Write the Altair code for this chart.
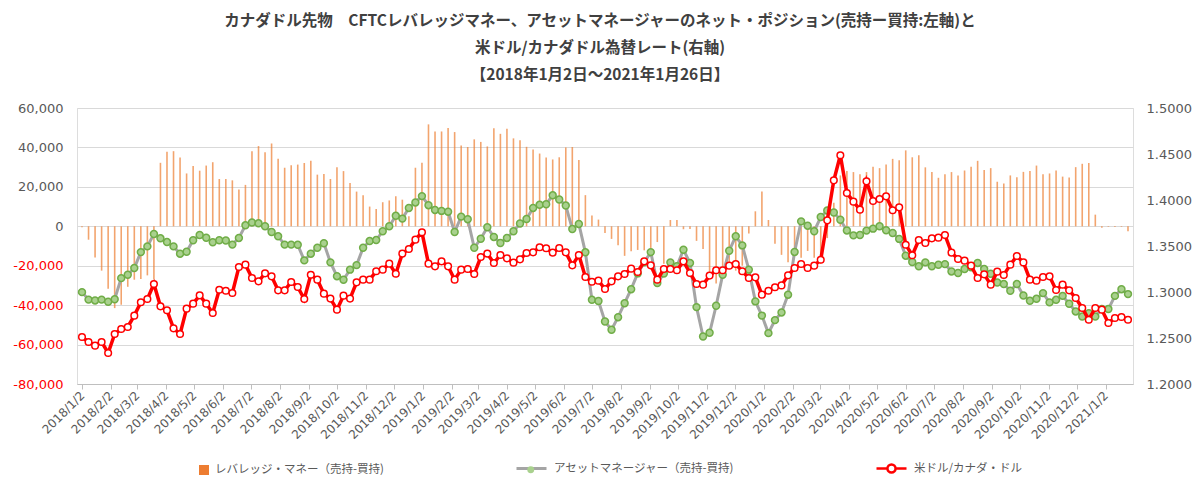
import altair as alt
import pandas as pd

LEV_NAME = "レバレッジ・マネー（売持-買持)"
AM_NAME = "アセットマネージャー（売持-買持)"
FX_NAME = "米ドル/カナダ・ドル"
TITLE = [
    "カナダドル先物　CFTCレバレッジマネー、アセットマネージャーのネット・ポジション(売持ー買持:左軸)と",
    "米ドル/カナダドル為替レート(右軸)",
    "【2018年1月2日～2021年1月26日】",
]

# weekly (Tuesday) observations 2018/1/2 .. 2021/1/26
dates = pd.date_range("2018-01-02", "2021-01-26", freq="7D").strftime("%Y-%m-%d").tolist()

# Leveraged money net position (short - long), contracts
lev = [
    -500, -6800, -15800, -22500, -31700, -41500, -39800, -30700, -27100, -26800,
    -24900, -27000, 32200, 37800, 38100, 34900, 26800, 30600, 28200, 30800,
    32500, 24000, 24000, 23300, 18600, 21000, 38100, 40700, 37500, 42000,
    34200, 29700, 31000, 31300, 32100, 33200, 26200, 26500, 24000, 30000,
    28000, 21900, 17600, 15800, 10000, 8800, 12200, 13100, 15200, 13500,
    5100, 29700, 32200, 51700, 48100, 48100, 49800, 47800, 41000, 40200,
    44100, 42800, 40500, 49700, 46900, 49500, 44600, 43700, 40300, 38900,
    36900, 34900, 33900, 35000, 40000, 40200, 33600, 15800, 5500, 3400,
    -3400, -6400, -9600, -15000, -12700, -12000, -12200, -11000, -8000, -19000,
    3200, 3200, -1500, -1400, -7400, -11500, -23500, -29000, -24000, -21000,
    -22500, -20000, -3700, 7600, 17700, 3200, -8800, -14500, -18300, -12500,
    -16000, -12500, -16000, -19000, -6000, 12000, 25800, 28000, 27500, 26400,
    27500, 30200, 29500, 31400, 34200, 33500, 38500, 35000, 36000, 29900,
    27500, 24600, 26400, 27500, 25700, 28300, 30200, 33200, 28500, 29500,
    22600, 21700, 25800, 24900, 27600, 28000, 30800, 26400, 26800, 28300,
    25200, 24700, 30000, 31700, 32100, 5900, -800, -300, -300, -300, -2500,
]

# Asset manager net position (short - long), contracts
asset = [
    -33400, -37200, -37600, -37200, -38300, -37000, -26300, -24600, -21200, -13100,
    -10200, -3900, -6100, -8000, -10200, -13900, -12900, -7100, -4400, -5800,
    -8100, -7100, -7200, -9300, -5900, 500, 1900, 1500, 0, -2900,
    -5100, -9300, -9300, -9400, -17300, -13900, -10900, -8600, -18300, -25300,
    -27100, -22000, -19700, -10900, -7500, -7000, -2500, 0, 5300, 3900,
    9300, 12100, 15300, 10700, 8300, 7800, 7400, -2900, 4900, 3600,
    -10900, -6300, -500, -5400, -8500, -5900, -2500, 1400, 3700, 9300,
    10900, 11200, 15700, 13600, 10500, -1400, 1200, -13200, -37300, -37900,
    -48300, -52500, -46100, -39000, -31900, -23900, -18300, -13100, -28800, -24000,
    -18300, -20200, -11900, -18600, -41000, -55900, -54000, -40300, -24600, -12400,
    -5100, -9700, -22000, -38100, -45300, -54200, -47600, -43700, -34700, -13000,
    2500, 300, -2500, 4700, 8000, 7000, 3300, -2100, -4600, -4400,
    -2200, -1200, 0, -2000, -3400, -6400, -14900, -18100, -20300, -18300,
    -20300, -19500, -19200, -22900, -23700, -21700, -20800, -18600, -21700, -24100,
    -28500, -29300, -32700, -29300, -35100, -37800, -36800, -33900, -38600, -37300,
    -35300, -39300, -43200, -45800, -44100, -45800, -42000, -42000, -35300, -31900, -34400,
]

# USD/CAD exchange rate
usdcad = [
    1.2511, 1.2457, 1.2417, 1.2457, 1.2337, 1.2543, 1.2598, 1.2620, 1.2743, 1.2888,
    1.2924, 1.3087, 1.2844, 1.2801, 1.2605, 1.2543, 1.2819, 1.2873, 1.2964, 1.2873,
    1.2772, 1.3025, 1.3014, 1.2989, 1.3272, 1.3297, 1.3152, 1.3116, 1.3203, 1.3170,
    1.3018, 1.3018, 1.3109, 1.3054, 1.2924, 1.3188, 1.3134, 1.2982, 1.2928, 1.2808,
    1.2960, 1.2928, 1.3105, 1.3134, 1.3134, 1.3225, 1.3243, 1.3308, 1.3199, 1.3417,
    1.3467, 1.3569, 1.3649, 1.3308, 1.3279, 1.3333, 1.3279, 1.3134, 1.3243, 1.3250,
    1.3196, 1.3380, 1.3417, 1.3315, 1.3402, 1.3366, 1.3319, 1.3355, 1.3424, 1.3431,
    1.3486, 1.3475, 1.3428, 1.3478, 1.3431, 1.3290, 1.3402, 1.3163, 1.3112, 1.3123,
    1.3033, 1.3116, 1.3170, 1.3196, 1.3254, 1.3217, 1.3333, 1.3290, 1.3134, 1.3250,
    1.3250, 1.3236, 1.3333, 1.3207, 1.3087, 1.3080, 1.3178, 1.3236, 1.3236, 1.3286,
    1.3304, 1.3225, 1.3152, 1.3159, 1.2971, 1.3014, 1.3051, 1.3072, 1.3181, 1.3261,
    1.3304, 1.3261, 1.3286, 1.3351, 1.3779, 1.4214, 1.4486, 1.4076, 1.3982, 1.3895,
    1.4203, 1.3989, 1.4011, 1.4040, 1.3888, 1.3920, 1.3514, 1.3399, 1.3565, 1.3533,
    1.3583, 1.3591, 1.3620, 1.3428, 1.3359, 1.3341, 1.3286, 1.3152, 1.3192, 1.3080,
    1.3221, 1.3185, 1.3297, 1.3391, 1.3322, 1.3134, 1.3123, 1.3163, 1.3170, 1.3022,
    1.3080, 1.3018, 1.2935, 1.2826, 1.2699, 1.2826, 1.2808, 1.2663, 1.2717, 1.2728, 1.2699,
]

left_ticks = [-80000, -60000, -40000, -20000, 0, 20000, 40000, 60000]
right_ticks = [1.20, 1.25, 1.30, 1.35, 1.40, 1.45, 1.50]
month_ticks = [(y, m) for y in (2018, 2019, 2020) for m in range(1, 13)] + [(2021, 1)]

# the green-marker legend is drawn on top of the grey line legend; its (hidden) label
# gets a trailing space so that Vega-Lite does not merge it with the line legend
AM_PT = AM_NAME + " "

df = pd.DataFrame({"date": dates, "lev": lev, "asset": asset, "fx": usdcad})
df["s_lev"] = LEV_NAME
df["s_am_line"] = AM_NAME
df["s_am_pt"] = AM_PT
df["s_fx"] = FX_NAME

JP = "Noto Sans CJK JP"
LAB = "DejaVu Sans"
GRAY_TXT = "#595959"

# legend symbol: short line with a hollow circle in the middle
LINE_CIRCLE = "M-1,0L-0.27,0M0.27,0L1,0M-0.27,0A0.27,0.27,0,1,1,0.27,0A0.27,0.27,0,1,1,-0.27,0Z"

x = alt.X(
    "date:T",
    title=None,
    scale=alt.Scale(
        type="utc",
        nice=False,
        domain=[alt.DateTime(year=2018, month=1, date=2, utc=True),
                alt.DateTime(year=2021, month=1, date=26, utc=True)],
    ),
    axis=alt.Axis(
        values=[alt.DateTime(year=y, month=m, date=2, utc=True) for y, m in month_ticks],
        labelExpr="utcFormat(datum.value, '%Y/%-m/%-d')",
        labelAngle=-45, labelAlign="right", labelBaseline="middle",
        labelFont=LAB, labelFontSize=12, labelColor=GRAY_TXT, labelPadding=4,
        labelOverlap=False, labelBound=False, labelFlush=False,
        tickSize=5, tickColor="#BFBFBF", domainColor="#BFBFBF", grid=False,
    ),
)

left_scale = alt.Scale(domain=[-80000, 60000], nice=False, zero=False)
left_axis = alt.Axis(
    values=left_ticks,
    labelExpr="(datum.value < 0 ? '-' : '') + format(abs(datum.value), ',')",
    labelColor={"expr": "datum.value < 0 ? '#FF0000' : '#595959'"},
    labelFont=LAB, labelFontSize=13, labelPadding=14,
    grid=True, gridColor="#D9D9D9", gridWidth=1,
    domain=False, ticks=False,
)
right_scale = alt.Scale(domain=[1.2, 1.5], nice=False, zero=False)
right_axis = alt.Axis(
    orient="right", values=right_ticks, format=".4f",
    labelFont=LAB, labelFontSize=13, labelColor=GRAY_TXT, labelPadding=13,
    grid=False, domain=False, ticks=False,
)

LEG_Y = 356
LEG_Y_LINE = 344
def leg(lx, ly=LEG_Y, **kw):
    base = dict(orient="none", legendX=lx, legendY=ly, title=None, padding=0,
                labelFont=JP, labelFontSize=11.5, labelColor=GRAY_TXT, labelLimit=400)
    base.update(kw)
    return alt.Legend(**base)

base = alt.Chart(df)

bars = base.mark_bar(size=1.6, opacity=0.7).encode(
    x=x,
    y=alt.Y("lev:Q", scale=left_scale, axis=left_axis, title=None),
    y2=alt.datum(0),
    fill=alt.Fill("s_lev:N", scale=alt.Scale(domain=[LEV_NAME], range=["#ED7D31"]),
                  legend=leg(121, symbolType="square", symbolSize=100, symbolOpacity=1,
                             labelOffset=5)),
)

am_line = base.mark_line(strokeWidth=3).encode(
    x=x,
    y=alt.Y("asset:Q", scale=left_scale, axis=left_axis, title=None),
    stroke=alt.Stroke("s_am_line:N", scale=alt.Scale(domain=[AM_NAME], range=["#A5A5A5"]),
                      legend=leg(438, LEG_Y_LINE, symbolType="stroke", symbolSize=900,
                                 symbolStrokeWidth=3, labelOffset=6)),
)
am_pts = base.mark_point(filled=True, fill="#A9D18E", stroke="#70AD47",
                         strokeWidth=1.5, size=48, opacity=1).encode(
    x=x,
    y=alt.Y("asset:Q", scale=left_scale, axis=left_axis, title=None),
    shape=alt.Shape("s_am_pt:N", scale=alt.Scale(domain=[AM_PT], range=["circle"]),
                    legend=leg(448, symbolType="circle", symbolSize=48, symbolStrokeWidth=1.5,
                               symbolFillColor="#A9D18E", symbolStrokeColor="#70AD47",
                               labelOpacity=0, labelOffset=17)),
)

fx_line = base.mark_line(strokeWidth=3.5).encode(
    x=x,
    y=alt.Y("fx:Q", scale=right_scale, axis=right_axis, title=None),
    color=alt.Color("s_fx:N", scale=alt.Scale(domain=[FX_NAME], range=["#FF0000"]),
                    legend=leg(798, LEG_Y_LINE, symbolType=LINE_CIRCLE, symbolSize=900,
                               symbolStrokeWidth=2.5, symbolFillColor="#FFFFFF",
                               labelOffset=6)),
)
fx_pts = base.mark_point(filled=True, fill="#FFFFFF", stroke="#FF0000",
                         strokeWidth=1.5, size=44, opacity=1).encode(
    x=x,
    y=alt.Y("fx:Q", scale=right_scale, axis=right_axis, title=None),
)

left = alt.layer(bars, am_line, am_pts)
right = alt.layer(fx_line, fx_pts)

chart = alt.layer(left, right).resolve_scale(y="independent").properties(
    width=1056,
    height=276,
    padding={"left": 69, "top": 100, "right": 59, "bottom": 100},
    autosize=alt.AutoSizeParams(type="none"),
    title=alt.TitleParams(
        text=TITLE, font=JP, fontSize=15.5, fontWeight="bold", color="#404040",
        lineHeight=27, anchor="middle", offset=19, dx=-5,
    ),
).configure_view(stroke=None).configure(background="white")

chart.save("out.html", embed_options={"renderer": "svg", "actions": False})
